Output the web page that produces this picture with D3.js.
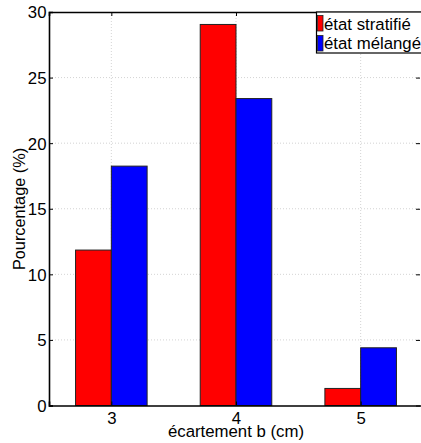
<!DOCTYPE html>
<html><head><meta charset="utf-8">
<script src="https://cdn.jsdelivr.net/npm/d3@7"></script>
<style>body{margin:0;background:#fff}svg{display:block}text{font-family:"Liberation Sans",Arial,sans-serif}</style>
</head><body><svg id="c" width="421" height="443"></svg>
<script>
const categories = [3, 4, 5];
const seriesNames = ["état stratifié", "état mélangé"];
const seriesColors = ["#ff0000", "#0000ff"];
const stratifie = [11.85, 29.05, 1.3];
const melange = [18.25, 23.4, 4.4];
const yTicks = [0, 5, 10, 15, 20, 25, 30];
const series = [stratifie, melange];

const svg = d3.select("#c");
const L = 49, R = 423, T = 12, B = 405.5;
const x = d3.scaleLinear().domain([2.5, 5.5]).range([L, R]);
const y = d3.scaleLinear().domain([0, 30]).range([B, T]);
const bw = 0.287;
const FS = 16.8;

// grid
const g = svg.append("g");
g.selectAll("line.h").data(yTicks.slice(1, -1)).enter().append("line")
  .attr("x1", L).attr("x2", R).attr("y1", d => y(d)).attr("y2", d => y(d))
  .attr("stroke", "#c8c8c8").attr("stroke-width", 0.8).attr("stroke-dasharray", "1,2");
g.selectAll("line.v").data(categories).enter().append("line")
  .attr("y1", T).attr("y2", B).attr("x1", d => x(d)).attr("x2", d => x(d))
  .attr("stroke", "#c8c8c8").attr("stroke-width", 0.8).attr("stroke-dasharray", "1,2");

// bars
series.forEach((vals, si) => {
  svg.append("g").selectAll("rect").data(vals).enter().append("rect")
    .attr("x", (d, i) => x(categories[i] + (si - 1) * bw))
    .attr("width", x(bw) - x(0))
    .attr("y", d => y(d))
    .attr("height", d => y(0) - y(d))
    .attr("fill", seriesColors[si])
    .attr("stroke", "#222").attr("stroke-width", 1);
});

// axes
const ax = svg.append("g").attr("transform", `translate(0,${B})`)
  .call(d3.axisBottom(x).tickValues(categories).tickSize(-4).tickPadding(7).tickFormat(d3.format("d")));
const ay = svg.append("g").attr("transform", `translate(${L},0)`)
  .call(d3.axisLeft(y).tickValues(yTicks).tickSize(-4).tickPadding(2.5));
const axT = svg.append("g").attr("transform", `translate(0,${T})`)
  .call(d3.axisTop(x).tickValues(categories).tickSize(-4).tickFormat(""));
const axR = svg.append("g").attr("transform", `translate(${R - 3},0)`)
  .call(d3.axisRight(y).tickValues(yTicks).tickSize(-4).tickFormat(""));
[ax, ay, axT, axR].forEach(a => {
  a.select(".domain").attr("stroke", "#000").attr("stroke-width", 1.6);
  a.selectAll(".tick line").attr("stroke", "#000");
  a.selectAll("text").attr("font-size", FS).attr("fill", "#000")
    .style("font-family", '"Liberation Sans",Arial,sans-serif');
});
axR.select(".domain").attr("stroke", "none");
ay.selectAll(".tick text").attr("dy", "0.35em");

// axis labels
svg.append("text").attr("x", 236).attr("y", 437).attr("text-anchor", "middle")
  .attr("font-size", FS).text("écartement b (cm)");
svg.append("text").attr("transform", "translate(25,209) rotate(-90)").attr("text-anchor", "middle")
  .attr("font-size", 16.3).text("Pourcentage (%)");

// legend
const lg = svg.append("g");
lg.append("rect").attr("x", 316.5).attr("y", 12).attr("width", 110).attr("height", 41)
  .attr("fill", "#fff").attr("stroke", "#000").attr("stroke-width", 1.2);
seriesNames.forEach((n, i) => {
  lg.append("rect").attr("x", 317.5).attr("y", 15.5 + i * 20).attr("width", 5.5).attr("height", 15.5)
    .attr("fill", seriesColors[i]).attr("stroke", "#222").attr("stroke-width", 0.8);
  lg.append("text").attr("x", 324).attr("y", 29.5 + i * 19.5).attr("font-size", FS).text(n);
});
</script></body></html>
